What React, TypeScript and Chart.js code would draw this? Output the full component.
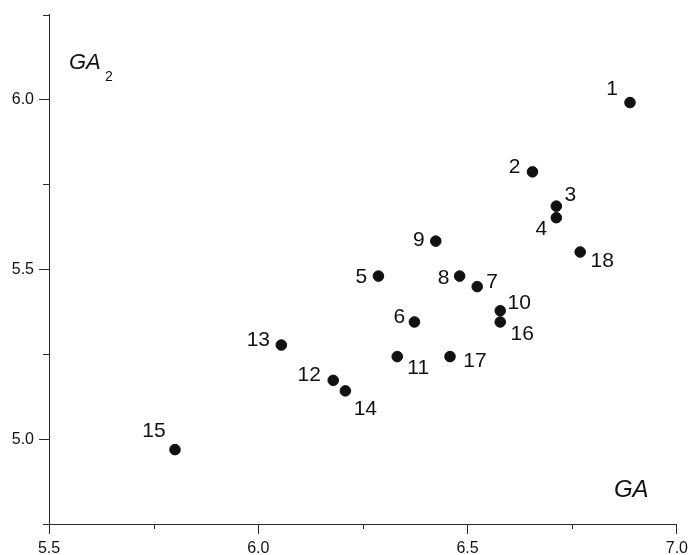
import React, { useEffect, useRef } from "react";
import { Chart, registerables } from "chart.js";

Chart.register(...registerables);

const POINT_IDS = ["1", "2", "3", "4", "5", "6", "7", "8", "9", "10", "11", "12", "13", "14", "15", "16", "17", "18"];
const GA_VALUES = [6.888, 6.655, 6.712, 6.712, 6.287, 6.373, 6.523, 6.481, 6.424, 6.578, 6.332, 6.179, 6.055, 6.208, 5.801, 6.578, 6.458, 6.769];
const GA2_VALUES = [5.991, 5.787, 5.686, 5.652, 5.48, 5.345, 5.449, 5.48, 5.583, 5.378, 5.243, 5.173, 5.277, 5.142, 4.969, 5.345, 5.243, 5.551];

const X_MIN = 5.5;
const X_MAX = 7.0;
const Y_MIN = 4.75;
const Y_MAX = 6.25;
const X_TICKS = [5.5, 6.0, 6.5, 7.0];
const Y_TICKS = [5.0, 5.5, 6.0];
const X_MINOR_TICKS = [5.75, 6.25, 6.75];
const Y_MINOR_TICKS = [4.75, 5.25, 5.75, 6.25];

// label placement (pixel offsets of the label centre from its point)
const LABEL_OFFSETS: [number, number][] = [
  [-18, -14], [-18, -6], [14, -12], [-15, 11], [-17, 0], [-15, -6],
  [15, -5], [-16, 1], [-17, -2], [19, -9], [21, 11], [-24, -6],
  [-23, -6], [20, 17], [-21, -19], [22, 11], [25, 4], [22, 8],
];

const FONT = "'Liberation Sans', Arial, sans-serif";
const INK = "#111";
const AXIS = "#2a2a2a";

const decorPlugin = {
  id: "decor",
  afterDraw(chart: any) {
    const ctx = chart.ctx;
    const xs = chart.scales.x;
    const ys = chart.scales.y;
    const area = chart.chartArea;
    ctx.save();
    // minor ticks
    ctx.strokeStyle = AXIS;
    ctx.lineWidth = 1;
    ctx.beginPath();
    X_MINOR_TICKS.forEach((v) => {
      const px = Math.round(xs.getPixelForValue(v)) + 0.5;
      ctx.moveTo(px, area.bottom);
      ctx.lineTo(px, area.bottom + 5);
    });
    Y_MINOR_TICKS.forEach((v) => {
      const py = Math.round(ys.getPixelForValue(v)) + 0.5;
      ctx.moveTo(area.left - 6, py);
      ctx.lineTo(area.left, py);
    });
    ctx.stroke();

    // point labels
    ctx.fillStyle = INK;
    ctx.font = `21px ${FONT}`;
    ctx.textAlign = "center";
    ctx.textBaseline = "middle";
    const meta = chart.getDatasetMeta(0);
    meta.data.forEach((el: any, i: number) => {
      const [dx, dy] = LABEL_OFFSETS[i];
      ctx.fillText(POINT_IDS[i], el.x + dx, el.y + dy + 1);
    });

    // axis titles
    ctx.textAlign = "left";
    ctx.textBaseline = "alphabetic";
    ctx.font = `italic 22px ${FONT}`;
    ctx.fillText("GA", area.left + 20, area.top + 54);
    ctx.font = `14px ${FONT}`;
    ctx.fillText("2", area.left + 56, area.top + 66);
    ctx.font = `italic 24px ${FONT}`;
    ctx.fillText("GA", area.right - 63, area.bottom - 27);
    ctx.restore();
  },
};

const tickOptions = {
  padding: 5,
  color: INK,
  font: { family: FONT, size: 16 },
  callback: (v: any) => Number(v).toFixed(1),
};

export default function App() {
  const ref = useRef<HTMLCanvasElement | null>(null);
  useEffect(() => {
    document.body.style.margin = "0";
    const canvas = ref.current;
    if (!canvas) return;
    const chart = new Chart(canvas, {
      type: "scatter",
      data: {
        datasets: [
          {
            data: GA_VALUES.map((x, i) => ({ x, y: GA2_VALUES[i] })),
            backgroundColor: INK,
            borderColor: INK,
            pointRadius: 5.3,
            pointHoverRadius: 5.3,
          },
        ],
      },
      options: {
        responsive: false,
        animation: false,
        events: [],
        layout: { padding: { top: 13, right: 13, left: 0, bottom: 0 } },
        plugins: { legend: { display: false }, tooltip: { enabled: false } },
        scales: {
          x: {
            type: "linear",
            min: X_MIN,
            max: X_MAX,
            afterBuildTicks: (s: any) => { s.ticks = X_TICKS.map((value) => ({ value })); },
            afterFit: (s: any) => { s.height = 31; },
            grid: { display: true, drawOnChartArea: false, drawTicks: true, tickLength: 10, color: AXIS },
            border: { display: true, color: AXIS, width: 1 },
            ticks: tickOptions,
          },
          y: {
            type: "linear",
            min: Y_MIN,
            max: Y_MAX,
            afterBuildTicks: (s: any) => { s.ticks = Y_TICKS.map((value) => ({ value })); },
            afterFit: (s: any) => { s.width = 49; },
            grid: { display: true, drawOnChartArea: false, drawTicks: true, tickLength: 10, color: AXIS },
            border: { display: true, color: AXIS, width: 1 },
            ticks: tickOptions,
          },
        },
      },
      plugins: [decorPlugin],
    });
    return () => chart.destroy();
  }, []);
  return (
    <div style={{ width: 693, height: 555 }}>
      <canvas ref={ref} width={693} height={555} style={{ display: "block" }} />
    </div>
  );
}
